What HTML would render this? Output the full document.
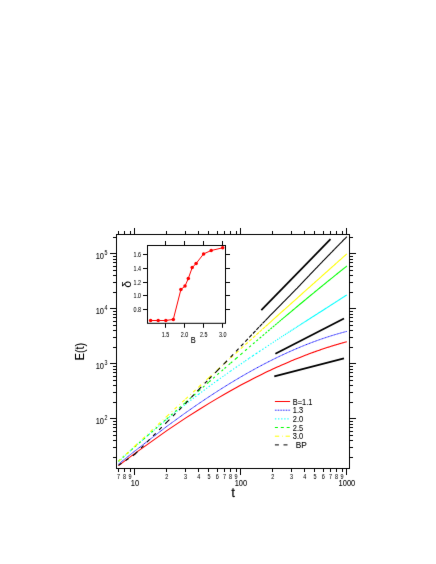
<!DOCTYPE html>
<html><head><meta charset="utf-8"><title>E(t) vs t</title>
<style>html,body{margin:0;padding:0;background:#fff;}svg{display:block;}</style>
</head><body>
<svg width="436" height="564" viewBox="0 0 436 564">
<defs><filter id="sf" x="0" y="0" width="436" height="564" filterUnits="userSpaceOnUse" color-interpolation-filters="sRGB"><feConvolveMatrix order="3" kernelMatrix="0.00360 0.05280 0.00360 0.05280 0.77440 0.05280 0.00360 0.05280 0.00360" divisor="1" edgeMode="duplicate" preserveAlpha="false"/></filter></defs>
<rect width="436" height="564" fill="#fff"/>
<g filter="url(#sf)">
<rect width="436" height="564" fill="#fff"/>
<path d="M118.48 465.61L134.90 453.32L166.81 430.63L185.47 418.16L198.72 409.70L208.99 403.37L217.38 398.36L224.48 394.23L230.63 390.74L236.05 387.73L240.90 385.10L245.29 382.75L249.29 380.65L252.98 378.75L256.39 377.02L259.57 375.43L262.54 373.97L265.33 372.61L267.96 371.35L270.45 370.17L272.81 369.07L275.06 368.03L277.20 367.05L279.24 366.13L281.20 365.25L283.08 364.42L284.89 363.63L286.62 362.88L288.30 362.16L289.91 361.47L291.47 360.82L292.98 360.19L294.45 359.58L295.86 359.00L297.24 358.45L298.57 357.91L299.87 357.39L301.13 356.89L302.36 356.41L303.55 355.95L304.72 355.50L305.86 355.06L306.96 354.64L308.05 354.23L309.11 353.84L310.14 353.45L311.15 353.08L312.14 352.72L313.11 352.36L314.06 352.02L314.99 351.69L315.90 351.36L316.80 351.05L317.67 350.74L318.53 350.44L319.38 350.15L320.21 349.86L321.02 349.58L321.82 349.31L322.61 349.04L323.38 348.78L324.14 348.53L324.89 348.28L325.63 348.04L326.36 347.80L327.07 347.57L327.77 347.34L328.46 347.12L329.15 346.90L329.82 346.69L330.48 346.48L331.13 346.28L331.78 346.07L332.41 345.88L333.04 345.68L333.66 345.50L334.27 345.31L334.87 345.13L335.46 344.95L336.05 344.77L336.63 344.60L337.20 344.43L337.76 344.26L338.32 344.10L338.87 343.94L339.42 343.78L339.96 343.62L340.49 343.47L341.02 343.32L341.54 343.17L342.05 343.03L342.56 342.88L343.06 342.74L343.56 342.61L344.05 342.47L344.54 342.33L345.02 342.20L345.50 342.07L345.97 341.94L346.44 341.82L346.90 341.69" fill="none" stroke="#ff0000" stroke-width="1.1"/>
<path d="M118.48 464.17L134.90 450.95L166.81 426.40L185.47 412.84L198.72 403.63L208.99 396.74L217.38 391.28L224.48 386.80L230.63 383.00L236.05 379.73L240.90 376.87L245.29 374.33L249.29 372.06L252.98 370.01L256.39 368.14L259.57 366.43L262.54 364.85L265.33 363.39L267.96 362.04L270.45 360.77L272.81 359.59L275.06 358.48L277.20 357.44L279.24 356.45L281.20 355.52L283.08 354.64L284.89 353.80L286.62 353.00L288.30 352.24L289.91 351.51L291.47 350.82L292.98 350.16L294.45 349.52L295.86 348.91L297.24 348.33L298.57 347.76L299.87 347.22L301.13 346.70L302.36 346.20L303.55 345.71L304.72 345.25L305.86 344.79L306.96 344.35L308.05 343.93L309.11 343.52L310.14 343.12L311.15 342.74L312.14 342.37L313.11 342.00L314.06 341.65L314.99 341.31L315.90 340.98L316.80 340.65L317.67 340.34L318.53 340.03L319.38 339.73L320.21 339.44L321.02 339.16L321.82 338.88L322.61 338.61L323.38 338.35L324.14 338.10L324.89 337.85L325.63 337.60L326.36 337.36L327.07 337.13L327.77 336.90L328.46 336.68L329.15 336.46L329.82 336.25L330.48 336.04L331.13 335.84L331.78 335.64L332.41 335.44L333.04 335.25L333.66 335.06L334.27 334.88L334.87 334.70L335.46 334.52L336.05 334.35L336.63 334.18L337.20 334.01L337.76 333.85L338.32 333.69L338.87 333.53L339.42 333.38L339.96 333.23L340.49 333.08L341.02 332.93L341.54 332.79L342.05 332.65L342.56 332.51L343.06 332.38L343.56 332.24L344.05 332.11L344.54 331.98L345.02 331.86L345.50 331.73L345.97 331.61L346.44 331.49L346.90 331.37" fill="none" stroke="#0000ff" stroke-width="0.9500000000000001" stroke-dasharray="1.15 0.4"/>
<path d="M118.48 461.78L134.90 446.58M134.90 446.58L166.81 419.18M166.81 419.18L185.47 404.30M185.47 404.30L198.72 394.18M198.72 394.18L208.99 386.56M208.99 386.56L217.38 380.46M217.38 380.46L224.48 375.40M224.48 375.40L230.63 371.07M230.63 371.07L236.05 367.29M236.05 367.29L240.90 363.95M240.90 363.95L245.29 360.95M245.29 360.95L249.29 358.23M249.29 358.23L252.98 355.74M252.98 355.74L256.39 353.45M256.39 353.45L259.57 351.33M259.57 351.33L262.54 349.35M262.54 349.35L265.33 347.50M265.33 347.50L267.96 345.76M267.96 345.76L270.45 344.12M270.45 344.12L272.81 342.57M272.81 342.57L275.06 341.10M275.06 341.10L277.20 339.70M277.20 339.70L279.24 338.36M279.24 338.36L281.20 337.08M281.20 337.08L283.08 335.86M283.08 335.86L284.89 334.69M284.89 334.69L286.62 333.56M286.62 333.56L288.30 332.48M288.30 332.48L289.91 331.43M289.91 331.43L291.47 330.43M291.47 330.43L292.98 329.45M292.98 329.45L294.45 328.51M294.45 328.51L295.86 327.60M295.86 327.60L297.24 326.71M297.24 326.71L298.57 325.86M298.57 325.86L299.87 325.02M299.87 325.02L301.13 324.21M301.13 324.21L302.36 323.42M302.36 323.42L303.55 322.66M303.55 322.66L304.72 321.91M304.72 321.91L305.86 321.18M305.86 321.18L306.96 320.47M306.96 320.47L308.05 319.77M308.05 319.77L309.11 319.10M309.11 319.10L310.14 318.43M310.14 318.43L311.15 317.78M311.15 317.78L312.14 317.15M312.14 317.15L313.11 316.53M313.11 316.53L314.06 315.92M314.06 315.92L314.99 315.33M314.99 315.33L315.90 314.74M315.90 314.74L316.80 314.17M316.80 314.17L317.67 313.61M317.67 313.61L318.53 313.06M318.53 313.06L319.38 312.52M319.38 312.52L320.21 311.99M320.21 311.99L321.02 311.47M321.02 311.47L321.82 310.95M321.82 310.95L322.61 310.45M322.61 310.45L323.38 309.96M323.38 309.96L324.14 309.47M324.14 309.47L324.89 308.99M324.89 308.99L325.63 308.52M325.63 308.52L326.36 308.05M326.36 308.05L327.07 307.60M327.07 307.60L327.77 307.15M327.77 307.15L328.46 306.70M328.46 306.70L329.15 306.27M329.15 306.27L329.82 305.84M329.82 305.84L330.48 305.41M330.48 305.41L331.13 304.99M331.13 304.99L331.78 304.58M331.78 304.58L332.41 304.17M332.41 304.17L333.04 303.77M333.04 303.77L333.66 303.37M333.66 303.37L334.27 302.98M334.27 302.98L334.87 302.60M334.87 302.60L335.46 302.21M335.46 302.21L336.05 301.84M336.05 301.84L336.63 301.47M336.63 301.47L337.20 301.10M337.20 301.10L337.76 300.74M337.76 300.74L338.32 300.38M338.32 300.38L338.87 300.02M338.87 300.02L339.42 299.67M339.42 299.67L339.96 299.33M339.96 299.33L340.49 298.98M340.49 298.98L341.02 298.64M341.02 298.64L341.54 298.31M341.54 298.31L342.05 297.98M342.05 297.98L342.56 297.65M342.56 297.65L343.06 297.33M343.06 297.33L343.56 297.01M343.56 297.01L344.05 296.69M344.05 296.69L344.54 296.37M344.54 296.37L345.02 296.06M345.02 296.06L345.50 295.75M345.50 295.75L345.97 295.45M345.97 295.45L346.44 295.15M346.44 295.15L346.90 294.85" fill="none" stroke="#00ffff" stroke-width="1.1" stroke-dasharray="1.2 1.9"/>
<path d="M118.48 461.07L134.90 446.74M134.90 446.74L166.81 418.82M166.81 418.82L185.47 402.48M185.47 402.48L198.72 390.91M198.72 390.91L208.99 381.95M208.99 381.95L217.38 374.65M217.38 374.65L224.48 368.49M224.48 368.49L230.63 363.16M230.63 363.16L236.05 358.48M236.05 358.48L240.90 354.30M240.90 354.30L245.29 350.52M245.29 350.52L249.29 347.08M249.29 347.08L252.98 343.92M252.98 343.92L256.39 341.00M256.39 341.00L259.57 338.28M259.57 338.28L262.54 335.75M262.54 335.75L265.33 333.37M265.33 333.37L267.96 331.13M267.96 331.13L270.45 329.02M270.45 329.02L272.81 327.02M272.81 327.02L275.06 325.11M275.06 325.11L277.20 323.30M277.20 323.30L279.24 321.58M279.24 321.58L281.20 319.92M281.20 319.92L283.08 318.34M283.08 318.34L284.89 316.82M284.89 316.82L286.62 315.36M286.62 315.36L288.30 313.96M288.30 313.96L289.91 312.60M289.91 312.60L291.47 311.30M291.47 311.30L292.98 310.03M292.98 310.03L294.45 308.81M294.45 308.81L295.86 307.63M295.86 307.63L297.24 306.48M297.24 306.48L298.57 305.37M298.57 305.37L299.87 304.29M299.87 304.29L301.13 303.25M301.13 303.25L302.36 302.23M302.36 302.23L303.55 301.23M303.55 301.23L304.72 300.27M304.72 300.27L305.86 299.33M305.86 299.33L306.96 298.41M306.96 298.41L308.05 297.51M308.05 297.51L309.11 296.64M309.11 296.64L310.14 295.79M310.14 295.79L311.15 294.95M311.15 294.95L312.14 294.14M312.14 294.14L313.11 293.34M313.11 293.34L314.06 292.56M314.06 292.56L314.99 291.79M314.99 291.79L315.90 291.05M315.90 291.05L316.80 290.31M316.80 290.31L317.67 289.59M317.67 289.59L318.53 288.89M318.53 288.89L319.38 288.20M319.38 288.20L320.21 287.52M320.21 287.52L321.02 286.85M321.02 286.85L321.82 286.20M321.82 286.20L322.61 285.56M322.61 285.56L323.38 284.93M323.38 284.93L324.14 284.31M324.14 284.31L324.89 283.70M324.89 283.70L325.63 283.10M325.63 283.10L326.36 282.51M326.36 282.51L327.07 281.93M327.07 281.93L327.77 281.36M327.77 281.36L328.46 280.80M328.46 280.80L329.15 280.24M329.15 280.24L329.82 279.70M329.82 279.70L330.48 279.16M330.48 279.16L331.13 278.64M331.13 278.64L331.78 278.12M331.78 278.12L332.41 277.60M332.41 277.60L333.04 277.10M333.04 277.10L333.66 276.60M333.66 276.60L334.27 276.11M334.27 276.11L334.87 275.62M334.87 275.62L335.46 275.14M335.46 275.14L336.05 274.67M336.05 274.67L336.63 274.20M336.63 274.20L337.20 273.74M337.20 273.74L337.76 273.29M337.76 273.29L338.32 272.84M338.32 272.84L338.87 272.40M338.87 272.40L339.42 271.96M339.42 271.96L339.96 271.53M339.96 271.53L340.49 271.10M340.49 271.10L341.02 270.68M341.02 270.68L341.54 270.27M341.54 270.27L342.05 269.85M342.05 269.85L342.56 269.45M342.56 269.45L343.06 269.04M343.06 269.04L343.56 268.65M343.56 268.65L344.05 268.25M344.05 268.25L344.54 267.87M344.54 267.87L345.02 267.48M345.02 267.48L345.50 267.10M345.50 267.10L345.97 266.72M345.97 266.72L346.44 266.35M346.44 266.35L346.90 265.98" fill="none" stroke="#00ff00" stroke-width="1.1" stroke-dasharray="2.2 3.3"/>
<path d="M118.48 461.47L134.90 446.01M134.90 446.01L166.81 416.31M166.81 416.31L185.47 399.11M185.47 399.11L198.72 386.98M198.72 386.98L208.99 377.60M208.99 377.60L217.38 369.97M217.38 369.97L224.48 363.52M224.48 363.52L230.63 357.96M230.63 357.96L236.05 353.05M236.05 353.05L240.90 348.67M240.90 348.67L245.29 344.71M245.29 344.71L249.29 341.10M249.29 341.10L252.98 337.78M252.98 337.78L256.39 334.71M256.39 334.71L259.57 331.85M259.57 331.85L262.54 329.18M262.54 329.18L265.33 326.67M265.33 326.67L267.96 324.31M267.96 324.31L270.45 322.08M270.45 322.08L272.81 319.96M272.81 319.96L275.06 317.94M275.06 317.94L277.20 316.02M277.20 316.02L279.24 314.19M279.24 314.19L281.20 312.44M281.20 312.44L283.08 310.75M283.08 310.75L284.89 309.14M284.89 309.14L286.62 307.58M286.62 307.58L288.30 306.08M288.30 306.08L289.91 304.64M289.91 304.64L291.47 303.24M291.47 303.24L292.98 301.89M292.98 301.89L294.45 300.59M294.45 300.59L295.86 299.32M295.86 299.32L297.24 298.09M297.24 298.09L298.57 296.90M298.57 296.90L299.87 295.74M299.87 295.74L301.13 294.61M301.13 294.61L302.36 293.52M302.36 293.52L303.55 292.45M303.55 292.45L304.72 291.41M304.72 291.41L305.86 290.39M305.86 290.39L306.96 289.40M306.96 289.40L308.05 288.43M308.05 288.43L309.11 287.49M309.11 287.49L310.14 286.57M310.14 286.57L311.15 285.66M311.15 285.66L312.14 284.78M312.14 284.78L313.11 283.91M313.11 283.91L314.06 283.07M314.06 283.07L314.99 282.24M314.99 282.24L315.90 281.42M315.90 281.42L316.80 280.63M316.80 280.63L317.67 279.84M317.67 279.84L318.53 279.08M318.53 279.08L319.38 278.32M319.38 278.32L320.21 277.58M320.21 277.58L321.02 276.86M321.02 276.86L321.82 276.14M321.82 276.14L322.61 275.44M322.61 275.44L323.38 274.75M323.38 274.75L324.14 274.07M324.14 274.07L324.89 273.41M324.89 273.41L325.63 272.75M325.63 272.75L326.36 272.10M326.36 272.10L327.07 271.47M327.07 271.47L327.77 270.84M327.77 270.84L328.46 270.22M328.46 270.22L329.15 269.61M329.15 269.61L329.82 269.02M329.82 269.02L330.48 268.43M330.48 268.43L331.13 267.84M331.13 267.84L331.78 267.27M331.78 267.27L332.41 266.70M332.41 266.70L333.04 266.15M333.04 266.15L333.66 265.59M333.66 265.59L334.27 265.05M334.27 265.05L334.87 264.51M334.87 264.51L335.46 263.99M335.46 263.99L336.05 263.46M336.05 263.46L336.63 262.95M336.63 262.95L337.20 262.44M337.20 262.44L337.76 261.93M337.76 261.93L338.32 261.44M338.32 261.44L338.87 260.95M338.87 260.95L339.42 260.46M339.42 260.46L339.96 259.98M339.96 259.98L340.49 259.51M340.49 259.51L341.02 259.04M341.02 259.04L341.54 258.57M341.54 258.57L342.05 258.11M342.05 258.11L342.56 257.66M342.56 257.66L343.06 257.21M343.06 257.21L343.56 256.77M343.56 256.77L344.05 256.33M344.05 256.33L344.54 255.90M344.54 255.90L345.02 255.47M345.02 255.47L345.50 255.04M345.50 255.04L345.97 254.62M345.97 254.62L346.44 254.21M346.44 254.21L346.90 253.79" fill="none" stroke="#ffff00" stroke-width="1.1" stroke-dasharray="3.3 3.4 0.6 3.2"/>
<path d="M118.48 465.38L134.90 454.26M134.90 454.26L166.81 422.13M166.81 422.13L185.47 403.66M185.47 403.66L198.72 389.60M198.72 389.60L208.99 378.99M208.99 378.99L217.38 370.56M217.38 370.56L224.48 363.40M224.48 363.40L230.63 357.06M230.63 357.06L236.05 351.36M236.05 351.36L240.90 346.23M240.90 346.23L245.29 341.59M245.29 341.59L249.29 337.38M249.29 337.38L252.98 333.50M252.98 333.50L256.39 329.91M256.39 329.91L259.57 326.57M259.57 326.57L262.54 323.46M262.54 323.46L265.33 320.54M265.33 320.54L267.96 317.81M267.96 317.81L270.45 315.24M270.45 315.24L272.81 312.82M272.81 312.82L275.06 310.53M275.06 310.53L277.20 308.36M277.20 308.36L279.24 306.29M279.24 306.29L281.20 304.31M281.20 304.31L283.08 302.42M283.08 302.42L284.89 300.60M284.89 300.60L286.62 298.85M286.62 298.85L288.30 297.16M288.30 297.16L289.91 295.52M289.91 295.52L291.47 293.93M291.47 293.93L292.98 292.39M292.98 292.39L294.45 290.89M294.45 290.89L295.86 289.43M295.86 289.43L297.24 288.01M297.24 288.01L298.57 286.62M298.57 286.62L299.87 285.26M299.87 285.26L301.13 283.94M301.13 283.94L302.36 282.65M302.36 282.65L303.55 281.39M303.55 281.39L304.72 280.16M304.72 280.16L305.86 278.97M305.86 278.97L306.96 277.80M306.96 277.80L308.05 276.65M308.05 276.65L309.11 275.54M309.11 275.54L310.14 274.45M310.14 274.45L311.15 273.39M311.15 273.39L312.14 272.35M312.14 272.35L313.11 271.34M313.11 271.34L314.06 270.35M314.06 270.35L314.99 269.39M314.99 269.39L315.90 268.44M315.90 268.44L316.80 267.51M316.80 267.51L317.67 266.60M317.67 266.60L318.53 265.71M318.53 265.71L319.38 264.84M319.38 264.84L320.21 263.98M320.21 263.98L321.02 263.13M321.02 263.13L321.82 262.31M321.82 262.31L322.61 261.49M322.61 261.49L323.38 260.69M323.38 260.69L324.14 259.91M324.14 259.91L324.89 259.13M324.89 259.13L325.63 258.37M325.63 258.37L326.36 257.62M326.36 257.62L327.07 256.89M327.07 256.89L327.77 256.16M327.77 256.16L328.46 255.45M328.46 255.45L329.15 254.75M329.15 254.75L329.82 254.06M329.82 254.06L330.48 253.38M330.48 253.38L331.13 252.70M331.13 252.70L331.78 252.04M331.78 252.04L332.41 251.39M332.41 251.39L333.04 250.75M333.04 250.75L333.66 250.11M333.66 250.11L334.27 249.49M334.27 249.49L334.87 248.87M334.87 248.87L335.46 248.26M335.46 248.26L336.05 247.66M336.05 247.66L336.63 247.07M336.63 247.07L337.20 246.48M337.20 246.48L337.76 245.91M337.76 245.91L338.32 245.34M338.32 245.34L338.87 244.77M338.87 244.77L339.42 244.22M339.42 244.22L339.96 243.67M339.96 243.67L340.49 243.12M340.49 243.12L341.02 242.59M341.02 242.59L341.54 242.06M341.54 242.06L342.05 241.53M342.05 241.53L342.56 241.01M342.56 241.01L343.06 240.50M343.06 240.50L343.56 239.99M343.56 239.99L344.05 239.49M344.05 239.49L344.54 239.00M344.54 239.00L345.02 238.51M345.02 238.51L345.50 238.02M345.50 238.02L345.97 237.54M345.97 237.54L346.44 237.07M346.44 237.07L346.90 236.60" fill="none" stroke="#000000" stroke-width="1.1" stroke-dasharray="3.7 4.9"/>
<line x1="261.3" y1="310.2" x2="330.5" y2="239.2" stroke="#000" stroke-width="1.75"/>
<line x1="275.4" y1="353.7" x2="344" y2="318.5" stroke="#000" stroke-width="1.75"/>
<line x1="274.3" y1="376.4" x2="344" y2="358.4" stroke="#000" stroke-width="1.75"/>
<rect x="116.5" y="234.5" width="233.0" height="234.0" fill="none" stroke="#000" stroke-width="1.0"/>
<path d="M118.50 468.5v3.5M118.50 234.5v-3.5M124.50 468.5v3.5M124.50 234.5v-3.5M130.50 468.5v3.5M130.50 234.5v-3.5M134.50 468.5v6.5M134.50 234.5v-6.5M166.50 468.5v3.5M166.50 234.5v-3.5M185.50 468.5v3.5M185.50 234.5v-3.5M198.50 468.5v3.5M198.50 234.5v-3.5M208.50 468.5v3.5M208.50 234.5v-3.5M217.50 468.5v3.5M217.50 234.5v-3.5M224.50 468.5v3.5M224.50 234.5v-3.5M230.50 468.5v3.5M230.50 234.5v-3.5M236.50 468.5v3.5M236.50 234.5v-3.5M240.50 468.5v6.5M240.50 234.5v-6.5M272.50 468.5v3.5M272.50 234.5v-3.5M291.50 468.5v3.5M291.50 234.5v-3.5M304.50 468.5v3.5M304.50 234.5v-3.5M314.50 468.5v3.5M314.50 234.5v-3.5M323.50 468.5v3.5M323.50 234.5v-3.5M330.50 468.5v3.5M330.50 234.5v-3.5M336.50 468.5v3.5M336.50 234.5v-3.5M342.50 468.5v3.5M342.50 234.5v-3.5M346.50 468.5v6.5M346.50 234.5v-6.5M116.5 457.50h-3.5M349.5 457.50h3.5M116.5 447.50h-3.5M349.5 447.50h3.5M116.5 440.50h-3.5M349.5 440.50h3.5M116.5 435.50h-3.5M349.5 435.50h3.5M116.5 431.50h-3.5M349.5 431.50h3.5M116.5 427.50h-3.5M349.5 427.50h3.5M116.5 424.50h-3.5M349.5 424.50h3.5M116.5 421.50h-3.5M349.5 421.50h3.5M116.5 418.50h-6.5M349.5 418.50h6.5M116.5 402.50h-3.5M349.5 402.50h3.5M116.5 392.50h-3.5M349.5 392.50h3.5M116.5 385.50h-3.5M349.5 385.50h3.5M116.5 380.50h-3.5M349.5 380.50h3.5M116.5 376.50h-3.5M349.5 376.50h3.5M116.5 372.50h-3.5M349.5 372.50h3.5M116.5 369.50h-3.5M349.5 369.50h3.5M116.5 366.50h-3.5M349.5 366.50h3.5M116.5 363.50h-6.5M349.5 363.50h6.5M116.5 347.50h-3.5M349.5 347.50h3.5M116.5 337.50h-3.5M349.5 337.50h3.5M116.5 330.50h-3.5M349.5 330.50h3.5M116.5 325.50h-3.5M349.5 325.50h3.5M116.5 321.50h-3.5M349.5 321.50h3.5M116.5 317.50h-3.5M349.5 317.50h3.5M116.5 314.50h-3.5M349.5 314.50h3.5M116.5 311.50h-3.5M349.5 311.50h3.5M116.5 308.50h-6.5M349.5 308.50h6.5M116.5 292.50h-3.5M349.5 292.50h3.5M116.5 282.50h-3.5M349.5 282.50h3.5M116.5 275.50h-3.5M349.5 275.50h3.5M116.5 270.50h-3.5M349.5 270.50h3.5M116.5 266.50h-3.5M349.5 266.50h3.5M116.5 262.50h-3.5M349.5 262.50h3.5M116.5 259.50h-3.5M349.5 259.50h3.5M116.5 256.50h-3.5M349.5 256.50h3.5M116.5 253.50h-6.5M349.5 253.50h6.5M116.5 237.50h-3.5M349.5 237.50h3.5" fill="none" stroke="#000" stroke-width="1.0"/>
<text transform="translate(118.48 478.70) scale(0.83 1)" font-size="6.6" text-anchor="middle" font-family="Liberation Sans, sans-serif" stroke="#000" stroke-width="0.04">7</text>
<text transform="translate(124.63 478.70) scale(0.83 1)" font-size="6.6" text-anchor="middle" font-family="Liberation Sans, sans-serif" stroke="#000" stroke-width="0.04">8</text>
<text transform="translate(130.05 478.70) scale(0.83 1)" font-size="6.6" text-anchor="middle" font-family="Liberation Sans, sans-serif" stroke="#000" stroke-width="0.04">9</text>
<text transform="translate(166.81 478.70) scale(0.83 1)" font-size="6.6" text-anchor="middle" font-family="Liberation Sans, sans-serif" stroke="#000" stroke-width="0.04">2</text>
<text transform="translate(185.47 478.70) scale(0.83 1)" font-size="6.6" text-anchor="middle" font-family="Liberation Sans, sans-serif" stroke="#000" stroke-width="0.04">3</text>
<text transform="translate(198.72 478.70) scale(0.83 1)" font-size="6.6" text-anchor="middle" font-family="Liberation Sans, sans-serif" stroke="#000" stroke-width="0.04">4</text>
<text transform="translate(208.99 478.70) scale(0.83 1)" font-size="6.6" text-anchor="middle" font-family="Liberation Sans, sans-serif" stroke="#000" stroke-width="0.04">5</text>
<text transform="translate(217.38 478.70) scale(0.83 1)" font-size="6.6" text-anchor="middle" font-family="Liberation Sans, sans-serif" stroke="#000" stroke-width="0.04">6</text>
<text transform="translate(224.48 478.70) scale(0.83 1)" font-size="6.6" text-anchor="middle" font-family="Liberation Sans, sans-serif" stroke="#000" stroke-width="0.04">7</text>
<text transform="translate(230.63 478.70) scale(0.83 1)" font-size="6.6" text-anchor="middle" font-family="Liberation Sans, sans-serif" stroke="#000" stroke-width="0.04">8</text>
<text transform="translate(236.05 478.70) scale(0.83 1)" font-size="6.6" text-anchor="middle" font-family="Liberation Sans, sans-serif" stroke="#000" stroke-width="0.04">9</text>
<text transform="translate(272.81 478.70) scale(0.83 1)" font-size="6.6" text-anchor="middle" font-family="Liberation Sans, sans-serif" stroke="#000" stroke-width="0.04">2</text>
<text transform="translate(291.47 478.70) scale(0.83 1)" font-size="6.6" text-anchor="middle" font-family="Liberation Sans, sans-serif" stroke="#000" stroke-width="0.04">3</text>
<text transform="translate(304.72 478.70) scale(0.83 1)" font-size="6.6" text-anchor="middle" font-family="Liberation Sans, sans-serif" stroke="#000" stroke-width="0.04">4</text>
<text transform="translate(314.99 478.70) scale(0.83 1)" font-size="6.6" text-anchor="middle" font-family="Liberation Sans, sans-serif" stroke="#000" stroke-width="0.04">5</text>
<text transform="translate(323.38 478.70) scale(0.83 1)" font-size="6.6" text-anchor="middle" font-family="Liberation Sans, sans-serif" stroke="#000" stroke-width="0.04">6</text>
<text transform="translate(330.48 478.70) scale(0.83 1)" font-size="6.6" text-anchor="middle" font-family="Liberation Sans, sans-serif" stroke="#000" stroke-width="0.04">7</text>
<text transform="translate(336.63 478.70) scale(0.83 1)" font-size="6.6" text-anchor="middle" font-family="Liberation Sans, sans-serif" stroke="#000" stroke-width="0.04">8</text>
<text transform="translate(342.05 478.70) scale(0.83 1)" font-size="6.6" text-anchor="middle" font-family="Liberation Sans, sans-serif" stroke="#000" stroke-width="0.04">9</text>
<text transform="translate(134.90 485.70) scale(0.83 1)" font-size="9.0" text-anchor="middle" font-family="Liberation Sans, sans-serif" stroke="#000" stroke-width="0.08">10</text>
<text transform="translate(240.90 485.70) scale(0.83 1)" font-size="9.0" text-anchor="middle" font-family="Liberation Sans, sans-serif" stroke="#000" stroke-width="0.08">100</text>
<text transform="translate(346.90 485.70) scale(0.83 1)" font-size="9.0" text-anchor="middle" font-family="Liberation Sans, sans-serif" stroke="#000" stroke-width="0.08">1000</text>
<text transform="translate(104.00 424.20) scale(0.83 1)" font-size="9.0" text-anchor="end" font-family="Liberation Sans, sans-serif" stroke="#000" stroke-width="0.08">10</text>
<text transform="translate(104.40 419.70) scale(0.83 1)" font-size="6.4" font-family="Liberation Sans, sans-serif" stroke="#000" stroke-width="0.04">2</text>
<text transform="translate(104.00 369.20) scale(0.83 1)" font-size="9.0" text-anchor="end" font-family="Liberation Sans, sans-serif" stroke="#000" stroke-width="0.08">10</text>
<text transform="translate(104.40 364.70) scale(0.83 1)" font-size="6.4" font-family="Liberation Sans, sans-serif" stroke="#000" stroke-width="0.04">3</text>
<text transform="translate(104.00 314.20) scale(0.83 1)" font-size="9.0" text-anchor="end" font-family="Liberation Sans, sans-serif" stroke="#000" stroke-width="0.08">10</text>
<text transform="translate(104.40 309.70) scale(0.83 1)" font-size="6.4" font-family="Liberation Sans, sans-serif" stroke="#000" stroke-width="0.04">4</text>
<text transform="translate(104.00 259.20) scale(0.83 1)" font-size="9.0" text-anchor="end" font-family="Liberation Sans, sans-serif" stroke="#000" stroke-width="0.08">10</text>
<text transform="translate(104.40 254.70) scale(0.83 1)" font-size="6.4" font-family="Liberation Sans, sans-serif" stroke="#000" stroke-width="0.04">5</text>
<text transform="translate(233.20 496.90) scale(0.95 1)" font-size="12.3" text-anchor="middle" font-family="Liberation Sans, sans-serif" stroke="#000" stroke-width="0.3">t</text>
<text transform="translate(84.20 351.60) rotate(-90) scale(0.87 1)" font-size="12.3" text-anchor="middle" font-family="Liberation Sans, sans-serif" stroke="#000" stroke-width="0.08">E(t)</text>
<line x1="274.9" y1="401.5" x2="290.1" y2="401.5" stroke="#ff0000" stroke-width="1.0"/>
<text transform="translate(292.80 404.50) scale(0.81 1)" font-size="9.2" font-family="Liberation Sans, sans-serif" stroke="#000" stroke-width="0.08">B=1.1</text>
<line x1="274.9" y1="410.2" x2="290.1" y2="410.2" stroke="#0000ff" stroke-width="1.0" stroke-dasharray="0.85 0.75"/>
<text transform="translate(292.80 413.20) scale(0.81 1)" font-size="9.2" font-family="Liberation Sans, sans-serif" stroke="#000" stroke-width="0.08">1.3</text>
<line x1="274.9" y1="418.9" x2="290.1" y2="418.9" stroke="#00ffff" stroke-width="1.0" stroke-dasharray="1.4 1.7"/>
<text transform="translate(292.80 421.90) scale(0.81 1)" font-size="9.2" font-family="Liberation Sans, sans-serif" stroke="#000" stroke-width="0.08">2.0</text>
<line x1="274.9" y1="427.5" x2="290.1" y2="427.5" stroke="#00ff00" stroke-width="1.0" stroke-dasharray="3.0 2.9"/>
<text transform="translate(292.80 430.50) scale(0.81 1)" font-size="9.2" font-family="Liberation Sans, sans-serif" stroke="#000" stroke-width="0.08">2.5</text>
<line x1="274.9" y1="436.2" x2="290.1" y2="436.2" stroke="#ffff00" stroke-width="1.0" stroke-dasharray="4.3 3.0 0.7 2.7"/>
<text transform="translate(292.80 439.20) scale(0.81 1)" font-size="9.2" font-family="Liberation Sans, sans-serif" stroke="#000" stroke-width="0.08">3.0</text>
<line x1="274.9" y1="444.9" x2="290.1" y2="444.9" stroke="#000" stroke-width="1.0" stroke-dasharray="4.0 4.6"/>
<text transform="translate(295.70 447.90) scale(0.9 1)" font-size="9.2" font-family="Liberation Sans, sans-serif" stroke="#000" stroke-width="0.08">BP</text>
<rect x="147.5" y="245.5" width="78.0" height="77.80000000000001" fill="#fff" stroke="#000" stroke-width="1.0"/>
<text transform="translate(165.55 336.90) scale(0.83 1)" font-size="6.5" text-anchor="middle" font-family="Liberation Sans, sans-serif" stroke="#000" stroke-width="0.04">1.5</text>
<text transform="translate(184.60 336.90) scale(0.83 1)" font-size="6.5" text-anchor="middle" font-family="Liberation Sans, sans-serif" stroke="#000" stroke-width="0.04">2.0</text>
<text transform="translate(203.65 336.90) scale(0.83 1)" font-size="6.5" text-anchor="middle" font-family="Liberation Sans, sans-serif" stroke="#000" stroke-width="0.04">2.5</text>
<text transform="translate(222.70 336.90) scale(0.83 1)" font-size="6.5" text-anchor="middle" font-family="Liberation Sans, sans-serif" stroke="#000" stroke-width="0.04">3.0</text>
<text transform="translate(141.00 311.90) scale(0.83 1)" font-size="6.5" text-anchor="end" font-family="Liberation Sans, sans-serif" stroke="#000" stroke-width="0.04">0.8</text>
<text transform="translate(141.00 298.20) scale(0.83 1)" font-size="6.5" text-anchor="end" font-family="Liberation Sans, sans-serif" stroke="#000" stroke-width="0.04">1.0</text>
<text transform="translate(141.00 284.50) scale(0.83 1)" font-size="6.5" text-anchor="end" font-family="Liberation Sans, sans-serif" stroke="#000" stroke-width="0.04">1.2</text>
<text transform="translate(141.00 270.80) scale(0.83 1)" font-size="6.5" text-anchor="end" font-family="Liberation Sans, sans-serif" stroke="#000" stroke-width="0.04">1.4</text>
<text transform="translate(141.00 257.10) scale(0.83 1)" font-size="6.5" text-anchor="end" font-family="Liberation Sans, sans-serif" stroke="#000" stroke-width="0.04">1.6</text>
<path d="M165.50 323.3v4.5M165.50 245.5v-4.5M184.50 323.3v4.5M184.50 245.5v-4.5M203.50 323.3v4.5M203.50 245.5v-4.5M222.50 323.3v4.5M222.50 245.5v-4.5M147.5 309.50h-4.5M225.5 309.50h4.5M147.5 295.50h-4.5M225.5 295.50h4.5M147.5 282.50h-4.5M225.5 282.50h4.5M147.5 268.50h-4.5M225.5 268.50h4.5M147.5 254.50h-4.5M225.5 254.50h4.5" fill="none" stroke="#000" stroke-width="1.0"/>
<text transform="translate(193.30 343.40) scale(0.83 1)" font-size="9.0" text-anchor="middle" font-family="Liberation Sans, sans-serif" stroke="#000" stroke-width="0.08">B</text>
<text transform="translate(131.0 284.3) rotate(-90)" font-size="12.4" text-anchor="middle" font-family="Liberation Sans, sans-serif">&#948;</text>
<path d="M150.6 320.5L158.2 320.5L165.8 320.5L173.3 319.4L180.9 289.5L185.0 286.1L188.3 278.5L192.2 267.6L196.1 263.5L203.6 253.9L211.2 250.5L222.7 247.8" fill="none" stroke="#ff0000" stroke-width="1.0"/>
<circle cx="150.6" cy="320.5" r="1.75" fill="#ff0000"/>
<circle cx="158.2" cy="320.5" r="1.75" fill="#ff0000"/>
<circle cx="165.8" cy="320.5" r="1.75" fill="#ff0000"/>
<circle cx="173.3" cy="319.4" r="1.75" fill="#ff0000"/>
<circle cx="180.9" cy="289.5" r="1.75" fill="#ff0000"/>
<circle cx="185.0" cy="286.1" r="1.75" fill="#ff0000"/>
<circle cx="188.3" cy="278.5" r="1.75" fill="#ff0000"/>
<circle cx="192.2" cy="267.6" r="1.75" fill="#ff0000"/>
<circle cx="196.1" cy="263.5" r="1.75" fill="#ff0000"/>
<circle cx="203.6" cy="253.9" r="1.75" fill="#ff0000"/>
<circle cx="211.2" cy="250.5" r="1.75" fill="#ff0000"/>
<circle cx="222.7" cy="247.8" r="1.75" fill="#ff0000"/>
</g>
</svg>
</body></html>
